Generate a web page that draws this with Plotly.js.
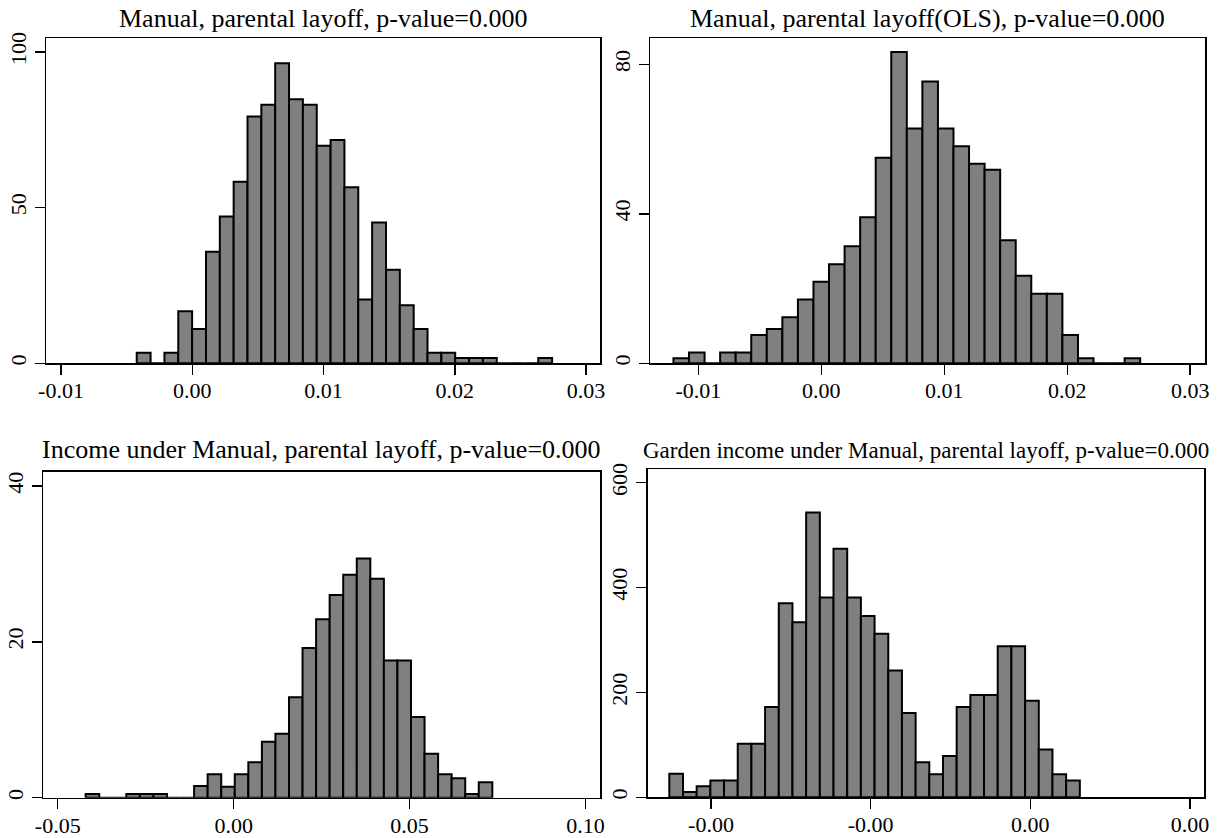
<!DOCTYPE html>
<html>
<head>
<meta charset="utf-8">
<script src="https://cdn.plot.ly/plotly-3.0.1.min.js"></script>
<style>html,body{margin:0;padding:0;background:#fff;}#chart{width:1222px;height:838px;}</style>
</head>
<body>
<div id="chart"></div>
<script>
// ---- Data ----
const titles = [
  "Manual, parental layoff, p-value=0.000",
  "Manual, parental layoff(OLS), p-value=0.000",
  "Income under Manual, parental layoff, p-value=0.000",
  "Garden income under Manual, parental layoff, p-value=0.000"
];

// Panel 1 histogram (bin start, bin width, heights)
const p1Start = -0.00423;
const p1Width = 0.001055;
const p1Heights = [3.4, 0, 3.4, 16.7, 11.0, 35.8, 47.1, 58.3, 79.2, 83.0, 96.3, 84.8, 83.0, 69.8, 71.7,
                   56.5, 20.5, 45.2, 30.0, 18.6, 11.0, 3.4, 3.4, 1.7, 1.7, 1.7, 0, 0, 0, 1.7];
const p1XTicks = [-0.01, 0.00, 0.01, 0.02, 0.03];
const p1XTickText = ["-0.01", "0.00", "0.01", "0.02", "0.03"];
const p1YTicks = [0, 50, 100];

// Panel 2
const p2Start = -0.01202;
const p2Width = 0.001265;
const p2Heights = [1.34, 2.9, 0, 2.9, 2.9, 7.6, 9.2, 12.3, 17.1, 21.8, 26.5, 31.3, 39.1, 55.0, 83.3,
                   62.8, 75.4, 62.8, 58.1, 53.4, 51.8, 32.9, 23.4, 18.6, 18.6, 7.6, 1.34, 0, 0, 1.34];
const p2XTicks = [-0.01, 0.00, 0.01, 0.02, 0.03];
const p2XTickText = ["-0.01", "0.00", "0.01", "0.02", "0.03"];
const p2YTicks = [0, 40, 80];

// Panel 3
const p3Start = -0.04206;
const p3Width = 0.003852;
const p3Heights = [0.47, 0, 0, 0.47, 0.47, 0.47, 0, 0, 1.5, 3.0, 1.42, 3.0, 4.55, 7.17, 8.2,
                   12.9, 19.2, 22.9, 26.0, 28.6, 30.7, 28.1, 17.6, 17.6, 10.35, 5.63, 3.0, 2.5, 0.47, 1.98];
const p3XTicks = [-0.05, 0.00, 0.05, 0.10];
const p3XTickText = ["-0.05", "0.00", "0.05", "0.10"];
const p3YTicks = [0, 20, 40];

// Panel 4
const p4Start = -0.002261;
const p4Width = 0.0000857;
const p4Heights = [45, 10, 21, 32, 32, 102, 102, 172, 370, 334, 543, 381, 474, 381, 346,
                   312, 242, 161, 67, 44, 79, 172, 195, 195, 288, 288, 184, 91, 44, 32];
const p4XTicks = [-0.002, -0.001, 0.000, 0.001];
const p4XTickText = ["-0.00", "-0.00", "0.00", "0.00"];
const p4YTicks = [0, 200, 400, 600];

// ---- Rendering ----
const W = 1222, H = 838;
const FONT = "Liberation Serif";

function centers(start, width, n) {
  const c = [];
  for (let i = 0; i < n; i++) c.push(start + (i + 0.5) * width);
  return c;
}

function barTrace(start, width, heights, xa, ya) {
  return {
    type: "bar",
    x: centers(start, width, heights.length),
    y: heights,
    width: width,
    xaxis: xa, yaxis: ya,
    marker: { color: "#808080", line: { color: "#000000", width: 2 } },
    hoverinfo: "skip",
    showlegend: false
  };
}

const data = [
  barTrace(p1Start, p1Width, p1Heights, "x", "y"),
  barTrace(p2Start, p2Width, p2Heights, "x2", "y2"),
  barTrace(p3Start, p3Width, p3Heights, "x3", "y3"),
  barTrace(p4Start, p4Width, p4Heights, "x4", "y4")
];

function px(x) { return x / W; }
function py(y) { return 1 - y / H; }

function xAxis(domain, range, tickvals, ticktext, anchor) {
  return {
    domain: domain, range: range, anchor: anchor,
    tickmode: "array", tickvals: tickvals, ticktext: ticktext,
    ticks: "outside", ticklen: 10, tickwidth: 1.5, tickcolor: "#000",
    ticklabelstandoff: -3,
    showline: true, linecolor: "#000", linewidth: 1.5, mirror: true,
    showgrid: false, zeroline: false,
    tickfont: { family: FONT, size: 22, color: "#000" },
    fixedrange: true
  };
}
function yAxis(domain, range, tickvals, anchor) {
  return {
    domain: domain, range: range, anchor: anchor,
    tickmode: "array", tickvals: tickvals, ticktext: tickvals.map(String),
    ticks: "outside", ticklen: 10, tickwidth: 1.5, tickcolor: "#000",
    tickangle: -90,
    showline: true, linecolor: "#000", linewidth: 1.5, mirror: true,
    showgrid: false, zeroline: false,
    tickfont: { family: FONT, size: 22, color: "#000" },
    fixedrange: true
  };
}

const d1x = [px(46), px(600)],   d1y = [py(363.3), py(38.3)];
const d2x = [px(650), px(1205)], d2y = [py(363.3), py(38.3)];
const d3x = [px(43.3), px(600)], d3y = [py(797.7), py(471.7)];
const d4x = [px(647.7), px(1204)], d4y = [py(797.3), py(469.3)];

function titleAnn(text, xd, ybase, size) {
  return {
    text: text, xref: "paper", yref: "paper",
    x: (xd[0] + xd[1]) / 2, y: py(ybase + size * 0.22 + 1),
    xanchor: "center", yanchor: "bottom", showarrow: false,
    font: { family: FONT, size: size, color: "#000" }
  };
}

const layout = {
  width: W, height: H, autosize: false,
  margin: { l: 0, r: 0, t: 0, b: 0, pad: 0 },
  paper_bgcolor: "#fff", plot_bgcolor: "#fff",
  font: { family: FONT, color: "#000" },
  bargap: 0, barmode: "overlay",
  showlegend: false,
  xaxis:  xAxis(d1x, [-0.011143, 0.031067], p1XTicks, p1XTickText, "y"),
  yaxis:  yAxis(d1y, [0, 104.33], p1YTicks, "x"),
  xaxis2: xAxis(d2x, [-0.013927, 0.0312], p2XTicks, p2XTickText, "y2"),
  yaxis2: yAxis(d2y, [0, 86.96], p2YTicks, "x2"),
  xaxis3: xAxis(d3x, [-0.0541, 0.1041], p3XTicks, p3XTickText, "y3"),
  yaxis3: yAxis(d3y, [0, 41.84], p3YTicks, "x3"),
  xaxis4: xAxis(d4x, [-0.0023964, 0.0010877], p4XTicks, p4XTickText, "y4"),
  yaxis4: yAxis(d4y, [0, 625.6], p4YTicks, "x4"),
  annotations: [
    titleAnn(titles[0], d1x, 28.3, 26),
    titleAnn(titles[1], d2x, 28.3, 26),
    titleAnn(titles[2], d3x, 459, 26),
    titleAnn(titles[3], d4x, 459, 23)
  ]
};

Plotly.newPlot("chart", data, layout, { displayModeBar: false, staticPlot: true });
</script>
</body>
</html>
